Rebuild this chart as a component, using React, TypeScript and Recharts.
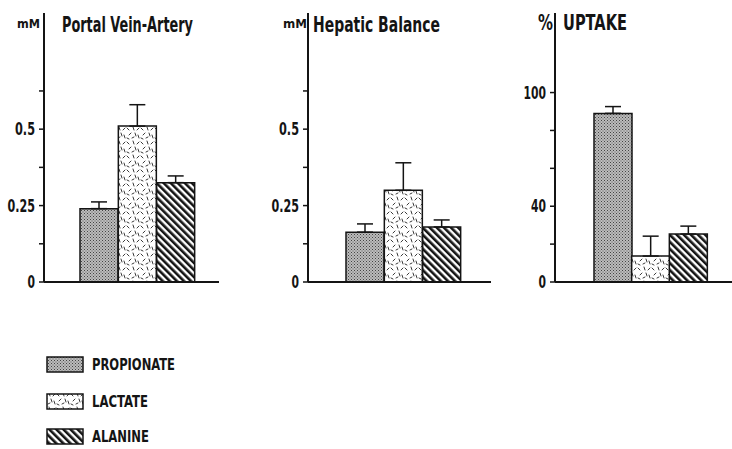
import { BarChart, Bar, XAxis, YAxis, ErrorBar, Cell } from "recharts";

const categories = ["PROPIONATE", "LACTATE", "ALANINE"];

// mean values, sem = whisker above the bar
const portalMean = [0.24, 0.51, 0.325];
const portalSem = [0.022, 0.07, 0.022];
const hepaticMean = [0.163, 0.3, 0.18];
const hepaticSem = [0.027, 0.09, 0.023];
const uptakeMean = [89, 13.7, 25.3];
const uptakeSem = [3.6, 10.5, 4.2];

const mMTicks = [0, 0.125, 0.25, 0.375, 0.5, 0.625];
const mMLabels = [0, 0.25, 0.5];
const pctTicks = [0, 20, 40, 60, 80, 100];
const pctLabels = [0, 40, 100];

const fills = ["url(#pat-prop)", "url(#pat-lact)", "url(#pat-alan)"];
const FONT = "'Liberation Sans Narrow', 'DejaVu Sans Condensed', 'Liberation Sans', sans-serif";
const INK = "#141414";

type PanelProps = {
  left: number;
  width: number;
  means: number[];
  sems: number[];
  max: number;
  ticks: number[];
  labels: number[];
  padL: number;
  padR: number;
};

// squeeze the labels to the narrow look of the original lettering
function labelWidth(s: string) {
  let w = 0;
  for (const ch of s) w += ch === "." ? 5 : 7.5;
  return w;
}

function renderTick(p: any, labels: number[]) {
  const v = p.payload.value;
  if (!labels.includes(v)) return <g />;
  const s = String(v);
  return (
    <text
      x={p.x}
      y={p.y}
      textAnchor="end"
      dominantBaseline="central"
      fontFamily={FONT}
      fontWeight="bold"
      fontSize={17}
      fill={INK}
      textLength={labelWidth(s)}
      lengthAdjust="spacingAndGlyphs"
    >
      {s}
    </text>
  );
}

function Panel({ left, width, means, sems, max, ticks, labels, padL, padR }: PanelProps) {
  const rows = categories.map((name, i) => ({ name, value: means[i], err: [0, sems[i]] }));
  return (
    <div style={{ position: "absolute", left, top: 0 }}>
      <BarChart width={width} height={300} data={rows} margin={{ top: 13, right: 0, bottom: 16, left: 4 }} barCategoryGap={0}>
        <XAxis
          dataKey="name"
          tick={false}
          tickLine={false}
          height={2}
          padding={{ left: padL, right: padR }}
          axisLine={{ stroke: INK, strokeWidth: 2 }}
        />
        <YAxis
          width={40}
          domain={[0, max]}
          ticks={ticks}
          interval={0}
          tickSize={5}
          tickMargin={4}
          axisLine={{ stroke: INK, strokeWidth: 2 }}
          tickLine={{ stroke: INK, strokeWidth: 1.5 }}
          tick={(p: any) => renderTick(p, labels)}
        />
        <Bar dataKey="value" isAnimationActive={false} stroke={INK} strokeWidth={1.5}>
          {rows.map((r, i) => (
            <Cell key={r.name} fill={fills[i]} />
          ))}
          <ErrorBar dataKey="err" width={8} stroke={INK} strokeWidth={1.5} direction="y" isAnimationActive={false} />
        </Bar>
      </BarChart>
    </div>
  );
}

const legendY = [357, 394, 429];

export default function App() {
  return (
    <div style={{ position: "absolute", left: 0, top: 0, width: 732, height: 449, background: "#fff", overflow: "hidden" }}>
      <svg width={0} height={0} style={{ position: "absolute" }}>
        <defs>
          <pattern id="pat-prop" width="3" height="3" patternUnits="userSpaceOnUse">
            <rect width="3" height="3" fill="#bcbcbc" />
            <rect x="0" y="0" width="1" height="1" fill="#444" />
            <rect x="1.5" y="1.5" width="1" height="1" fill="#5a5a5a" />
          </pattern>
          <pattern id="pat-lact" width="14" height="14" patternUnits="userSpaceOnUse">
            <rect width="14" height="14" fill="#fff" />
            <g stroke="#3a3a3a" strokeWidth="1" strokeLinecap="round">
              <line x1="1" y1="2" x2="3" y2="4" />
              <line x1="7" y1="1" x2="8" y2="4" />
              <line x1="11" y1="4" x2="13" y2="2" />
              <line x1="3" y1="9" x2="5" y2="7" />
              <line x1="9" y1="7" x2="10" y2="10" />
              <line x1="1" y1="12" x2="3" y2="13" />
              <line x1="6" y1="12" x2="8" y2="11" />
              <line x1="12" y1="9" x2="13" y2="12" />
            </g>
          </pattern>
          <pattern id="pat-alan" width="5" height="5" patternUnits="userSpaceOnUse" patternTransform="rotate(-45)">
            <rect width="5" height="5" fill="#fff" />
            <rect x="0" y="0" width="2.6" height="5" fill={INK} />
          </pattern>
        </defs>
      </svg>

      <Panel left={0} width={219} means={portalMean} sems={portalSem} max={0.88} ticks={mMTicks} labels={mMLabels} padL={36} padR={24} />
      <Panel left={264} width={227} means={hepaticMean} sems={hepaticSem} max={0.88} ticks={mMTicks} labels={mMLabels} padL={38} padR={30} />
      <Panel left={511} width={221} means={uptakeMean} sems={uptakeSem} max={142} ticks={pctTicks} labels={pctLabels} padL={39} padR={25} />

      <svg width={732} height={449} style={{ position: "absolute", left: 0, top: 0, pointerEvents: "none" }}>
        <g fontFamily={FONT} fontWeight="bold" fill={INK}>
          <text x={17} y={28} fontSize={13} textLength={23} lengthAdjust="spacingAndGlyphs">mM</text>
          <text x={62} y={32} fontSize={21} textLength={131} lengthAdjust="spacingAndGlyphs">Portal Vein-Artery</text>
          <text x={283} y={28} fontSize={13} textLength={24} lengthAdjust="spacingAndGlyphs">mM</text>
          <text x={313} y={32} fontSize={21} textLength={127} lengthAdjust="spacingAndGlyphs">Hepatic Balance</text>
          <text x={538} y={30} fontSize={21} textLength={15} lengthAdjust="spacingAndGlyphs">%</text>
          <text x={563} y={30} fontSize={21} textLength={64} lengthAdjust="spacingAndGlyphs">UPTAKE</text>
        </g>
        {categories.map((c, i) => (
          <g key={c}>
            <rect x={47} y={legendY[i]} width={36} height={15} fill={fills[i]} stroke={INK} strokeWidth={1.5} />
            <text
              x={92}
              y={legendY[i] + 13}
              fontFamily={FONT}
              fontWeight="bold"
              fontSize={15}
              fill={INK}
              textLength={[83, 56, 57][i]}
              lengthAdjust="spacingAndGlyphs"
            >
              {c}
            </text>
          </g>
        ))}
      </svg>
    </div>
  );
}
